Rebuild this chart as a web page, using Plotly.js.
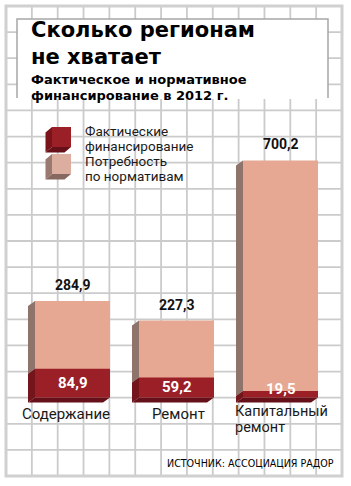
<!DOCTYPE html>
<html>
<head>
<meta charset="utf-8">
<script src="https://cdn.plot.ly/plotly-3.0.1.min.js"></script>
<style>
  html, body { margin: 0; padding: 0; background: #fff; }
  #chart { width: 351px; height: 486px; }
</style>
</head>
<body>
<div id="chart"></div>
<script>
// ---- data ----
const categories = ['Содержание', 'Ремонт', 'Капитальный ремонт'];
const normativeNeed = [284.9, 227.3, 700.2];   // Потребность по нормативам
const actualFunding = [84.9, 59.2, 19.5];      // Фактические финансирование
const legendLabels = ['Фактические', 'финансирование', 'Потребность', 'по нормативам'];
const titleLines = ['Сколько регионам', 'не хватает'];
const subtitleLines = ['Фактическое и нормативное', 'финансирование в 2012 г.'];
const sourceText = 'ИСТОЧНИК: АССОЦИАЦИЯ РАДОР';

// ---- layout constants ----
const W = 351, H = 486;
const basePx = 397.5;          // pixel row of value 0
const pxPerUnit = 0.3385;      // vertical scale
const cat0Px = 72.5, pxPerCat = 104;
const barPx = 75;
const barW = barPx / pxPerCat;
const depthX = -7 / pxPerCat;  // 3D depth offsets converted to data units
const depthY = -5 / pxPerUnit;

const yRange = [-(H - basePx) / pxPerUnit, basePx / pxPerUnit];
const xRange = [-cat0Px / pxPerCat, (W - cat0Px) / pxPerCat];

const C = {
  lightFront: '#e6a893', lightSide: '#8e746a',
  darkFront: '#9a1f27', darkSide: '#73151b', darkBottom: '#66101a',
  grid: '#cbcbcb', frame: '#d0d0d0', boxLine: '#a6a6a6', text: '#1a1a1a'
};

const fmt = v => v.toFixed(1).replace('.', ',');
const xIdx = categories.map((c, i) => i);
const px = x => x / W;
const py = y => 1 - y / H;

// ---- traces ----
const traces = [
  { type: 'bar', x: xIdx, y: normativeNeed, width: barW, name: legendLabels[2] + ' ' + legendLabels[3],
    marker: { color: C.lightFront, line: { width: 0 } }, hoverinfo: 'skip' },
  { type: 'bar', x: xIdx, y: actualFunding, width: barW, name: legendLabels[0] + ' ' + legendLabels[1],
    marker: { color: C.darkFront, line: { width: 0 } }, hoverinfo: 'skip' }
];

// ---- shapes ----
const shapes = [];
// background grid
const gx0 = 6, gx1 = 342, gy0 = 6, gy1 = 476;
const nCols = 13, nRows = 18;
for (let k = 1; k < nCols; k++) {
  const x = gx0 + k * (gx1 - gx0) / nCols;
  shapes.push({ type: 'line', xref: 'paper', yref: 'paper', layer: 'below',
    x0: px(x), x1: px(x), y0: py(gy0), y1: py(gy1), line: { color: C.grid, width: 1.8 } });
}
for (let k = 1; k < nRows; k++) {
  const y = gy0 + k * (gy1 - gy0) / nRows;
  shapes.push({ type: 'line', xref: 'paper', yref: 'paper', layer: 'below',
    x0: px(gx0), x1: px(gx1), y0: py(y), y1: py(y), line: { color: C.grid, width: 1.8 } });
}
shapes.push({ type: 'rect', xref: 'paper', yref: 'paper', layer: 'below',
  x0: px(gx0), x1: px(gx1), y0: py(gy0), y1: py(gy1), line: { color: C.frame, width: 3 } });
// title box
shapes.push({ type: 'rect', xref: 'paper', yref: 'paper', layer: 'below',
  x0: px(17), x1: px(328), y0: py(19), y1: py(99), fillcolor: '#ffffff', line: { width: 0 } });
shapes.push({ type: 'path', xref: 'paper', yref: 'paper', layer: 'below',
  path: `M${px(17)},${py(98)} L${px(17)},${py(19)} L${px(328)},${py(19)} L${px(328)},${py(98)}`,
  line: { color: C.boxLine, width: 1.5 } });

// 3D faces of bars, derived from data
const poly = pts => 'M' + pts.map(p => p[0] + ',' + p[1]).join(' L') + ' Z';
xIdx.forEach(i => {
  const xL = i - barW / 2, xR = i + barW / 2;
  const top = normativeNeed[i], mid = actualFunding[i];
  shapes.push({ type: 'path', xref: 'x', yref: 'y', layer: 'above', fillcolor: C.lightSide, line: { width: 0 },
    path: poly([[xL, top], [xL + depthX, top + depthY], [xL + depthX, mid + depthY], [xL, mid]]) });
  shapes.push({ type: 'path', xref: 'x', yref: 'y', layer: 'above', fillcolor: C.darkSide, line: { width: 0 },
    path: poly([[xL, mid], [xL + depthX, mid + depthY], [xL + depthX, depthY], [xL, 0]]) });
  shapes.push({ type: 'path', xref: 'x', yref: 'y', layer: 'above', fillcolor: C.darkBottom, line: { width: 0 },
    path: poly([[xL, 0], [xR, 0], [xR + depthX, depthY], [xL + depthX, depthY]]) });
});

// legend boxes
function legendBox(x, y, w, h, front, side, bottom) {
  const dx = -6.5, dy = 5.5;
  shapes.push({ type: 'path', xref: 'paper', yref: 'paper', layer: 'above', fillcolor: side, line: { width: 0 },
    path: poly([[px(x), py(y)], [px(x + dx), py(y + dy)], [px(x + dx), py(y + h + dy)], [px(x), py(y + h)]]) });
  shapes.push({ type: 'path', xref: 'paper', yref: 'paper', layer: 'above', fillcolor: bottom, line: { width: 0 },
    path: poly([[px(x), py(y + h)], [px(x + w), py(y + h)], [px(x + w + dx), py(y + h + dy)], [px(x + dx), py(y + h + dy)]]) });
  shapes.push({ type: 'rect', xref: 'paper', yref: 'paper', layer: 'above', fillcolor: front, line: { width: 0 },
    x0: px(x), x1: px(x + w), y0: py(y), y1: py(y + h) });
}
legendBox(52, 127, 19, 20, C.darkFront, '#7a141a', C.darkBottom);
legendBox(52, 154, 19, 20, '#dcae9f', '#9a7a70', '#876860');

// ---- annotations ----
const ann = [];
const titleFont = { family: 'DejaVu Sans', size: 21, color: '#000', weight: 700 };
const subFont = { family: 'DejaVu Sans', size: 13, color: '#000', weight: 700 };
[30, 56.5].forEach((y, k) => ann.push({ xref: 'paper', yref: 'paper', x: px(29), y: py(y),
  xanchor: 'left', yanchor: 'middle', showarrow: false, text: '<b>' + titleLines[k] + '</b>', font: titleFont }));
[79.5, 95].forEach((y, k) => ann.push({ xref: 'paper', yref: 'paper', x: px(29), y: py(y),
  xanchor: 'left', yanchor: 'middle', showarrow: false, text: '<b>' + subtitleLines[k] + '</b>', font: subFont }));

const legFont = { family: 'Roboto', size: 13.5, color: C.text };
[131, 146, 161, 176].forEach((y, k) => ann.push({ xref: 'paper', yref: 'paper', x: px(84), y: py(y),
  xanchor: 'left', yanchor: 'middle', showarrow: false, borderpad: 0, text: legendLabels[k], font: legFont }));

const valFont = { family: 'Roboto', size: 14, color: '#111', weight: 700 };
const inFont = { family: 'Roboto', size: 15, color: '#fff', weight: 700 };
xIdx.forEach(i => {
  ann.push({ xref: 'x', yref: 'y', x: i, y: normativeNeed[i], yanchor: 'bottom', yshift: 6,
    showarrow: false, text: '<b>' + fmt(normativeNeed[i]) + '</b>', font: valFont });
  const minHalf = 9 / pxPerUnit;
  ann.push({ xref: 'x', yref: 'y', x: i, y: Math.max(actualFunding[i] / 2, minHalf), yanchor: 'middle',
    showarrow: false, text: '<b>' + fmt(actualFunding[i]) + '</b>', font: inFont });
});

const catFont = { family: 'Roboto', size: 15, color: C.text };
ann.push({ xref: 'x', yref: 'y', x: 0, y: 0, xshift: -7, yanchor: 'top', yshift: -5,
  showarrow: false, text: categories[0], font: catFont });
ann.push({ xref: 'x', yref: 'y', x: 1, y: 0, xshift: 1.5, yanchor: 'top', yshift: -5,
  showarrow: false, text: categories[1], font: catFont });
const capWords = categories[2].split(' ');
capWords.forEach((w, k) => ann.push({ xref: 'x', yref: 'y', x: 2 - barW / 2, y: 0, xshift: -9,
  xanchor: 'left', yanchor: 'top', yshift: -4 - 16 * k, borderpad: 0, showarrow: false, text: w,
  font: { family: 'Roboto', size: 14.5, color: C.text } }));

ann.push({ xref: 'paper', yref: 'paper', x: px(336), y: py(463), xanchor: 'right', yanchor: 'middle',
  showarrow: false, text: sourceText,
  font: { family: 'DejaVu Sans Condensed, Roboto', size: 10.6, color: '#000' } });

const layout = {
  width: W, height: H, margin: { l: 0, r: 0, t: 0, b: 0 },
  paper_bgcolor: '#fff', plot_bgcolor: 'rgba(0,0,0,0)',
  barmode: 'overlay', showlegend: false,
  xaxis: { range: xRange, visible: false, fixedrange: true },
  yaxis: { range: yRange, visible: false, fixedrange: true },
  shapes: shapes, annotations: ann
};

Plotly.newPlot('chart', traces, layout, { staticPlot: true, displayModeBar: false });
</script>
</body>
</html>
